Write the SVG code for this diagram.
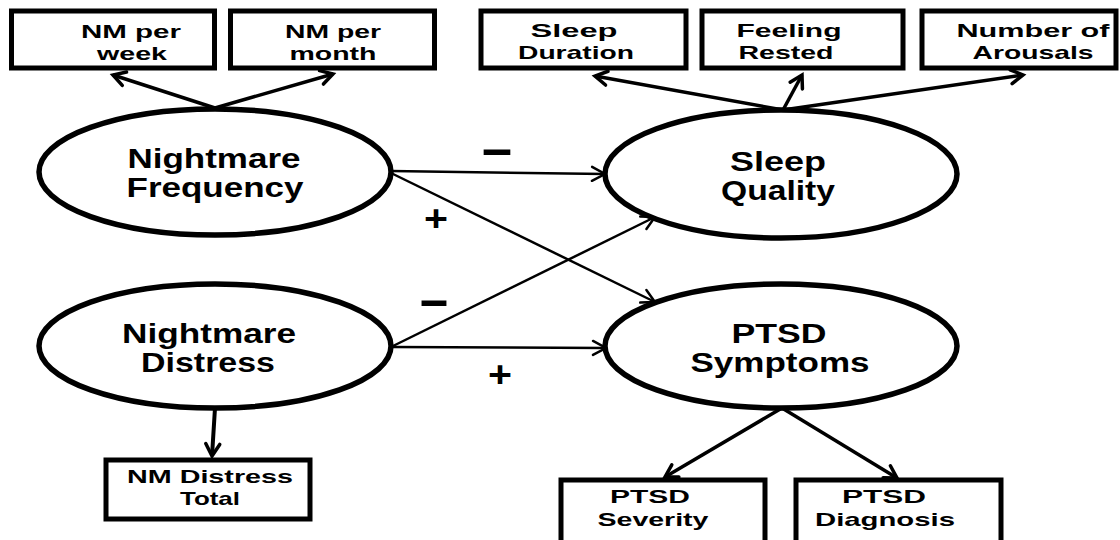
<svg xmlns="http://www.w3.org/2000/svg" width="1120" height="540" viewBox="0 0 1120 540">
<style>
  .box { fill: #fff; stroke: #000; stroke-width: 5; }
  .lat { fill: #fff; stroke: #000; stroke-width: 5.5; }
  .bt { font-family: "Liberation Sans", Arial, sans-serif; font-weight: bold; font-size: 19px; fill: #000; text-anchor: middle; }
  .et { font-family: "Liberation Sans", Arial, sans-serif; font-weight: bold; font-size: 27px; fill: #000; text-anchor: middle; }
  .sg { font-family: "Liberation Sans", Arial, sans-serif; font-weight: bold; fill: #000; text-anchor: middle; }
  .path { stroke: #000; stroke-width: 2.5; fill: none; marker-end: url(#arr); }
  .ind { stroke: #000; stroke-width: 3.5; fill: none; marker-end: url(#arrB); }
</style>
<defs>
  <marker id="arr" viewBox="0 0 20 20" refX="16" refY="10" markerWidth="20" markerHeight="20" markerUnits="userSpaceOnUse" orient="auto">
    <path d="M3,3 L16,10 L3,17" fill="none" stroke="#000" stroke-width="2.5" stroke-linecap="round" stroke-linejoin="miter"/>
  </marker>
  <marker id="arrB" viewBox="0 0 20 20" refX="16" refY="10" markerWidth="20" markerHeight="20" markerUnits="userSpaceOnUse" orient="auto">
    <path d="M4,3 L16,10 L4,17" fill="none" stroke="#000" stroke-width="3.5" stroke-linecap="round" stroke-linejoin="miter"/>
  </marker>
</defs>
<rect width="1120" height="540" fill="#fff"/>

<g id="connectors">
  <line class="ind" x1="215" y1="108" x2="113" y2="75"/>
  <line class="ind" x1="215" y1="108" x2="333" y2="74"/>
  <line class="ind" x1="783" y1="110" x2="595" y2="76"/>
  <line class="ind" x1="783" y1="110" x2="802" y2="75"/>
  <line class="ind" x1="783" y1="110" x2="1023" y2="75"/>
  <line class="ind" x1="215" y1="408" x2="212" y2="456" style="stroke-width:4"/>
  <line class="ind" x1="782" y1="408" x2="665" y2="477"/>
  <line class="ind" x1="782" y1="408" x2="897" y2="478"/>
  <line class="path" x1="391" y1="171" x2="605" y2="174"/>
  <line class="path" x1="391" y1="173" x2="655" y2="302"/>
  <line class="path" x1="391" y1="347" x2="655" y2="217"/>
  <line class="path" x1="391" y1="347" x2="606" y2="348"/>
</g>

<g id="signs">
  <text class="sg" x="497" y="167" font-size="55" textLength="30" lengthAdjust="spacingAndGlyphs">–</text>
  <text class="sg" x="436" y="231" font-size="36" textLength="24" lengthAdjust="spacingAndGlyphs">+</text>
  <text class="sg" x="434" y="318" font-size="55" textLength="28" lengthAdjust="spacingAndGlyphs">–</text>
  <text class="sg" x="500" y="387" font-size="36" textLength="24" lengthAdjust="spacingAndGlyphs">+</text>
</g>

<g id="nm-per-week">
  <rect class="box" x="11.5" y="11" width="203" height="57"/>
  <text class="bt" x="131" y="38" textLength="100" lengthAdjust="spacingAndGlyphs">NM per</text>
  <text class="bt" x="132" y="60" textLength="70" lengthAdjust="spacingAndGlyphs">week</text>
</g>
<g id="nm-per-month">
  <rect class="box" x="230.5" y="11" width="204" height="57"/>
  <text class="bt" x="333" y="38" textLength="96" lengthAdjust="spacingAndGlyphs">NM per</text>
  <text class="bt" x="333" y="60" textLength="87" lengthAdjust="spacingAndGlyphs">month</text>
</g>
<g id="sleep-duration">
  <rect class="box" x="481" y="11" width="205" height="57"/>
  <text class="bt" x="574" y="37" textLength="87" lengthAdjust="spacingAndGlyphs">Sleep</text>
  <text class="bt" x="576" y="59" textLength="116" lengthAdjust="spacingAndGlyphs">Duration</text>
</g>
<g id="feeling-rested">
  <rect class="box" x="702" y="11" width="201" height="57"/>
  <text class="bt" x="789" y="37" textLength="105" lengthAdjust="spacingAndGlyphs">Feeling</text>
  <text class="bt" x="786" y="59" textLength="95" lengthAdjust="spacingAndGlyphs">Rested</text>
</g>
<g id="number-of-arousals">
  <rect class="box" x="922" y="11" width="194" height="57"/>
  <text class="bt" x="1033" y="37" textLength="153" lengthAdjust="spacingAndGlyphs">Number of</text>
  <text class="bt" x="1033" y="59" textLength="121" lengthAdjust="spacingAndGlyphs">Arousals</text>
</g>

<g id="nightmare-frequency">
  <ellipse class="lat" cx="215" cy="172" rx="176" ry="63"/>
  <text class="et" x="214" y="168" textLength="173" lengthAdjust="spacingAndGlyphs">Nightmare</text>
  <text class="et" x="215" y="197" textLength="177" lengthAdjust="spacingAndGlyphs">Frequency</text>
</g>
<g id="nightmare-distress">
  <ellipse class="lat" cx="215" cy="346" rx="176" ry="62"/>
  <text class="et" x="209" y="343" textLength="174" lengthAdjust="spacingAndGlyphs">Nightmare</text>
  <text class="et" x="208" y="372" textLength="134" lengthAdjust="spacingAndGlyphs">Distress</text>
</g>
<g id="sleep-quality">
  <ellipse class="lat" cx="781" cy="174" rx="176" ry="64"/>
  <text class="et" x="778" y="171" textLength="96" lengthAdjust="spacingAndGlyphs">Sleep</text>
  <text class="et" x="778" y="200" textLength="114" lengthAdjust="spacingAndGlyphs">Quality</text>
</g>
<g id="ptsd-symptoms">
  <ellipse class="lat" cx="781" cy="346" rx="176" ry="62"/>
  <text class="et" x="779" y="343" textLength="95" lengthAdjust="spacingAndGlyphs">PTSD</text>
  <text class="et" x="780" y="372" textLength="179" lengthAdjust="spacingAndGlyphs">Symptoms</text>
</g>

<g id="nm-distress-total">
  <rect class="box" x="106" y="460" width="204" height="59"/>
  <text class="bt" x="210" y="483" textLength="166" lengthAdjust="spacingAndGlyphs">NM Distress</text>
  <text class="bt" x="210" y="505" textLength="60" lengthAdjust="spacingAndGlyphs">Total</text>
</g>
<g id="ptsd-severity">
  <rect class="box" x="561" y="480" width="204" height="70"/>
  <text class="bt" x="650" y="503" textLength="80" lengthAdjust="spacingAndGlyphs">PTSD</text>
  <text class="bt" x="653" y="526" textLength="111" lengthAdjust="spacingAndGlyphs">Severity</text>
</g>
<g id="ptsd-diagnosis">
  <rect class="box" x="796" y="480" width="205" height="70"/>
  <text class="bt" x="884" y="503" textLength="84" lengthAdjust="spacingAndGlyphs">PTSD</text>
  <text class="bt" x="885" y="526" textLength="140" lengthAdjust="spacingAndGlyphs">Diagnosis</text>
</g>
</svg>
